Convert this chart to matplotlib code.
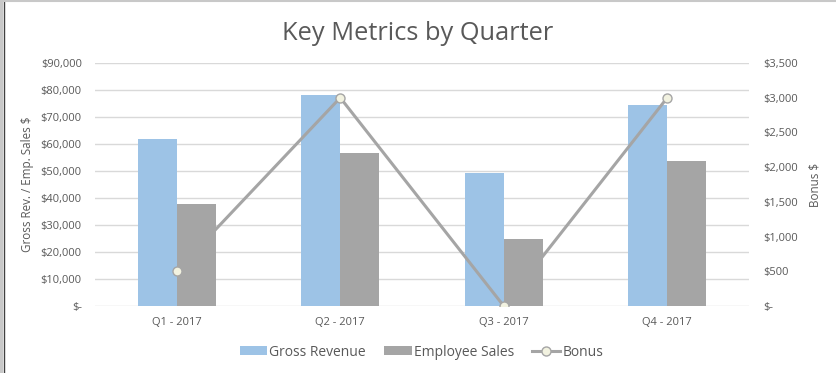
import matplotlib.pyplot as plt
import numpy as np
from matplotlib.lines import Line2D
from matplotlib.ticker import FuncFormatter

plt.rcParams['font.family'] = ['Open Sans', 'DejaVu Sans']

quarters = ["Q1 - 2017", "Q2 - 2017", "Q3 - 2017", "Q4 - 2017"]
gross_revenue = [62000, 78000, 49300, 74500]
employee_sales = [37800, 56800, 24800, 53700]
bonus = [510, 3000, 0, 3000]

BLUE = "#9DC3E6"
GRAY = "#A5A5A5"
TEXT = "#595959"
GRID = "#D9D9D9"


def money(v, _):
    if v == 0:
        return "$-"
    return f"${v:,.0f}"


fig = plt.figure(figsize=(8.36, 3.73), dpi=100)
ax = fig.add_axes([95 / 836, 67 / 373, 654 / 836, 243 / 373])
ax2 = ax.twinx()

x = np.arange(len(quarters))
w = 0.24
ax.bar(x - w / 2, gross_revenue, w, color=BLUE, label="Gross Revenue", zorder=2)
ax.bar(x + w / 2, employee_sales, w, color=GRAY, label="Employee Sales", zorder=2)
ax2.plot(x, bonus, color=GRAY, lw=2.2, marker="o", ms=6.5,
         markerfacecolor="#F2F2E0", markeredgecolor=GRAY, markeredgewidth=1,
         label="Bonus", zorder=3)

ax.set_xlim(-0.5, 3.5)
ax.set_ylim(0, 90000)
ax.set_yticks(np.arange(0, 90001, 10000))
ax2.set_ylim(0, 3500)
ax2.set_yticks(np.arange(0, 3501, 500))
ax.yaxis.set_major_formatter(FuncFormatter(money))
ax2.yaxis.set_major_formatter(FuncFormatter(money))
ax.set_xticks(x)
ax.set_xticklabels(quarters)

ax.grid(axis="y", color=GRID, lw=1, zorder=0)
ax.set_axisbelow(True)
for a in (ax, ax2):
    for s in a.spines.values():
        s.set_visible(False)
    a.tick_params(length=0, labelsize=8.0, colors=TEXT)
ax.tick_params(axis="y", pad=9.5)
ax2.tick_params(axis="y", pad=10)
ax.tick_params(axis="x", labelsize=8, pad=8)

ax.set_ylabel("Gross Rev. / Emp. Sales $", fontsize=8.4, color=TEXT, labelpad=4.5)
ax2.set_ylabel("Bonus $", fontsize=8.4, color=TEXT, labelpad=8)

fig.text(0.5, 0.91, "Key Metrics by Quarter", ha="center", va="center",
         fontsize=18.3, color=TEXT)

h1, l1 = ax.get_legend_handles_labels()
h2, l2 = ax2.get_legend_handles_labels()
fig.legend(h1 + h2, l1 + l2, loc="center", bbox_to_anchor=(0.504, 0.056),
           ncol=3, frameon=False, fontsize=10, labelcolor=TEXT,
           handlelength=2.0, handleheight=0.65, handletextpad=0.15, columnspacing=1.3)

# window frame
fig.add_artist(plt.Rectangle((0, 0), 3 / 836, 1, transform=fig.transFigure,
                             color="#C8C8C8", lw=0))
fig.add_artist(Line2D([3.5 / 836, 3.5 / 836], [0, 1], transform=fig.transFigure,
                      color="#404040", lw=1))
fig.add_artist(Line2D([0, 1], [1 - 1 / 373, 1 - 1 / 373], transform=fig.transFigure,
                      color="#C8C8C8", lw=1.5))

fig.savefig("out.png", dpi=100)
